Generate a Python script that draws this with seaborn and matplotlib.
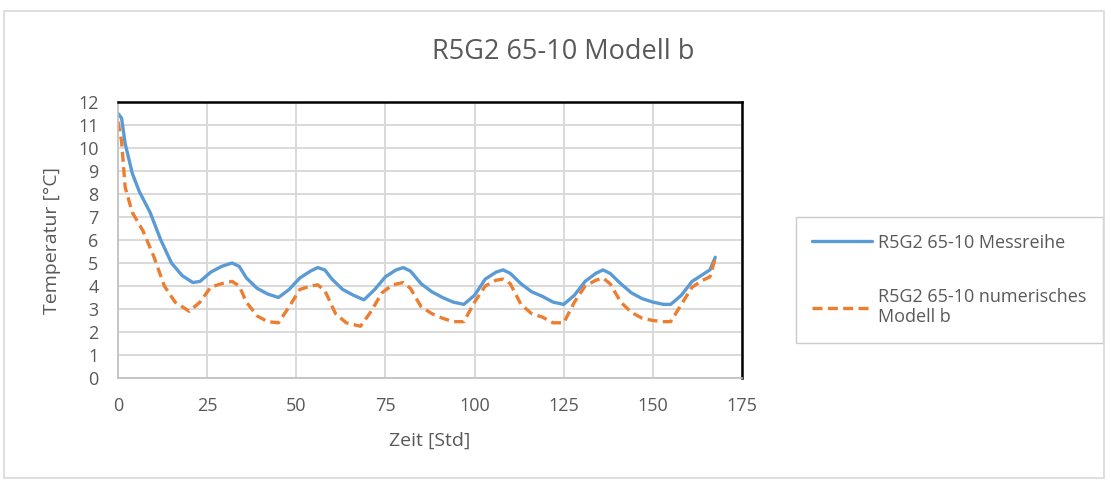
import numpy as np
import pandas as pd
import seaborn as sns
import matplotlib.pyplot as plt
from matplotlib.patches import Rectangle

# Messreihe (blue)
mess_t = [0, 1, 2, 4, 6, 9, 12, 15, 18, 21, 23, 26, 29, 32, 34, 36, 39, 42, 45, 48,
          51, 54, 56, 58, 60, 63, 66, 69, 72, 75, 78, 80, 82, 85, 88, 91, 94, 97, 100,
          103, 106, 108, 110, 113, 116, 119, 122, 125, 128, 131, 134, 136, 138, 141,
          144, 147, 150, 153, 155, 158, 161, 164, 166, 167.5]
mess_y = [11.5, 11.3, 10.2, 8.9, 8.1, 7.2, 6.0, 5.0, 4.45, 4.15, 4.2, 4.6, 4.85, 5.0,
          4.85, 4.35, 3.9, 3.65, 3.5, 3.85, 4.35, 4.65, 4.8, 4.7, 4.3, 3.85, 3.6, 3.4,
          3.85, 4.4, 4.7, 4.8, 4.65, 4.1, 3.75, 3.5, 3.3, 3.2, 3.6, 4.3, 4.6, 4.7, 4.55,
          4.1, 3.75, 3.55, 3.3, 3.2, 3.6, 4.2, 4.55, 4.7, 4.55, 4.1, 3.7, 3.45, 3.3, 3.2,
          3.2, 3.6, 4.2, 4.5, 4.7, 5.25]

# numerisches Modell b (orange)
mod_t = [0, 1, 2, 4, 7, 10, 13, 16, 20, 23, 26, 29, 32, 34, 36, 39, 42, 45, 48, 51,
         54, 56, 58, 61, 64, 68, 71, 74, 77, 80, 82, 85, 88, 91, 94, 97, 100, 103,
         106, 108, 110, 113, 116, 119, 122, 125, 128, 131, 134, 136, 138, 141, 144,
         147, 150, 153, 155, 158, 161, 164, 166, 167.5]
mod_y = [11.15, 10.3, 8.3, 7.2, 6.4, 5.3, 4.0, 3.3, 2.9, 3.3, 3.95, 4.1, 4.2, 4.0, 3.3,
         2.7, 2.45, 2.4, 3.1, 3.85, 4.0, 4.05, 3.8, 2.8, 2.4, 2.25, 2.9, 3.7, 4.05, 4.15,
         3.9, 3.1, 2.8, 2.6, 2.45, 2.45, 3.3, 4.0, 4.25, 4.3, 4.1, 3.2, 2.8, 2.65, 2.4,
         2.4, 3.3, 4.0, 4.25, 4.35, 4.1, 3.3, 2.85, 2.6, 2.5, 2.45, 2.45, 3.2, 3.95,
         4.25, 4.4, 5.2]

label_mess = 'R5G2 65-10 Messreihe'
label_mod = 'R5G2 65-10 numerisches\nModell b'

sns.set_style('white')
plt.rcParams['font.family'] = ['Open Sans', 'DejaVu Sans']
txt = '#595959'
grid_c = '#D9D9D9'

fig = plt.figure(figsize=(11.11, 4.82), dpi=100)
ax = fig.add_axes([118/1111, 1 - 378/482, (742 - 118)/1111, (378 - 102)/482])

# outer chart frame
fig.patches.append(Rectangle((4/1111, 1 - 478/482), 1100/1111, 467/482,
                             transform=fig.transFigure, fill=False,
                             edgecolor='#D9D9D9', linewidth=1.2))

sns.lineplot(x=mess_t, y=mess_y, ax=ax, color='#5B9BD5', linewidth=2.4,
             label=label_mess, sort=False)
sns.lineplot(x=mod_t, y=mod_y, ax=ax, color='#ED7D31', linewidth=2.4,
             linestyle=(0, (3, 1.6)), label=label_mod, sort=False)
for ln in ax.get_lines():
    ln.set_solid_joinstyle('round')
    ln.set_dash_joinstyle('round')

ax.set_xlim(0, 175)
ax.set_ylim(0, 12)
ax.set_xticks(np.arange(0, 176, 25))
ax.set_yticks(np.arange(0, 13, 1))
ax.grid(True, color=grid_c, linewidth=1.4)
ax.set_axisbelow(True)

for s in ['top', 'right']:
    ax.spines[s].set_color('black')
    ax.spines[s].set_linewidth(1.8)
for s in ['left', 'bottom']:
    ax.spines[s].set_color('#BFBFBF')
    ax.spines[s].set_linewidth(1.2)

ax.tick_params(axis='x', colors=txt, labelsize=13, length=4, width=1.2,
               color='#BFBFBF', direction='out', pad=10)
ax.tick_params(axis='y', colors=txt, labelsize=13, length=0, pad=14)

ax.set_xlabel('Zeit [Std]', color=txt, fontsize=14, labelpad=12)
ax.set_ylabel('Temperatur [°C]', color=txt, fontsize=14, labelpad=12)
fig.text(563/1111, 1 - 52/482, 'R5G2 65-10 Modell b', ha='center', va='center',
         color=txt, fontsize=19.5)

leg = ax.legend(loc='center left', bbox_to_anchor=(787/1111, 1 - 280/482),
                bbox_transform=fig.transFigure, frameon=True, fancybox=False,
                fontsize=13, labelcolor=txt, handlelength=3.3,
                labelspacing=2.0, borderpad=0.9, handletextpad=0.35)
leg.get_frame().set_edgecolor('#BFBFBF')
leg.get_frame().set_linewidth(1.0)

fig.savefig('out.png', dpi=100)
